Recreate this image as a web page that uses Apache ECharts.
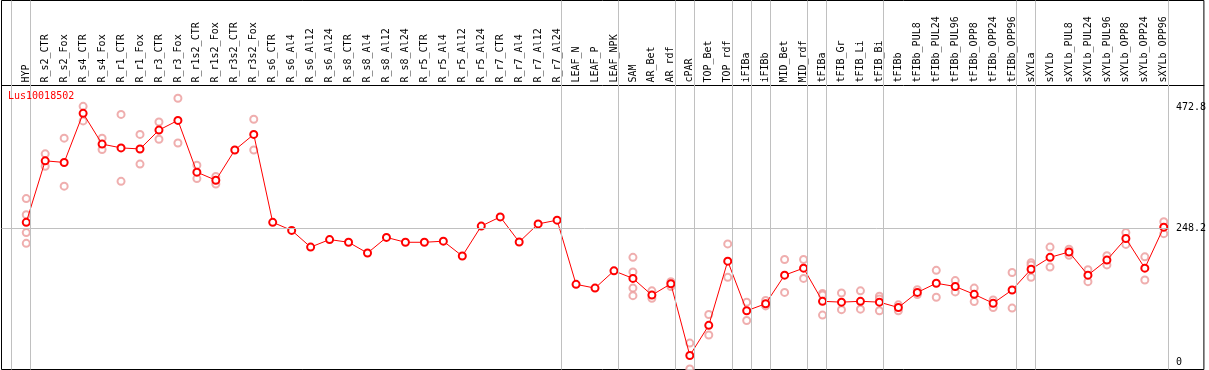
<!DOCTYPE html>
<html>
<head>
<meta charset="utf-8">
<script src="https://cdn.jsdelivr.net/npm/echarts@6/dist/echarts.min.js"></script>
<style>
  html, body { margin: 0; padding: 0; background: #fff; }
  #chart { width: 1209px; height: 370px; }
</style>
</head>
<body>
<div id="chart"></div>
<script>
// sample names (top labels)
const categories = [
  "HYP", "R_s2_CTR", "R_s2_Fox", "R_s4_CTR", "R_s4_Fox", "R_r1_CTR", "R_r1_Fox",
  "R_r3_CTR", "R_r3_Fox", "R_r1s2_CTR", "R_r1s2_Fox", "R_r3s2_CTR", "R_r3s2_Fox",
  "R_s6_CTR", "R_s6_Al4", "R_s6_Al12", "R_s6_Al24", "R_s8_CTR", "R_s8_Al4", "R_s8_Al12",
  "R_s8_Al24", "R_r5_CTR", "R_r5_Al4", "R_r5_Al12", "R_r5_Al24", "R_r7_CTR", "R_r7_Al4",
  "R_r7_Al12", "R_r7_Al24", "LEAF_N", "LEAF_P", "LEAF_NPK", "SAM", "AR_Bet", "AR_rdf",
  "cPAR", "TOP_Bet", "TOP_rdf", "iFIBa", "iFIBb", "MID_Bet", "MID_rdf", "tFIBa",
  "tFIB_Gr", "tFIB_Li", "tFIB_Bi", "tFIBb", "tFIBb_PUL8", "tFIBb_PUL24", "tFIBb_PUL96",
  "tFIBb_OPP8", "tFIBb_OPP24", "tFIBb_OPP96", "sXYLa", "sXYLb", "sXYLb_PUL8",
  "sXYLb_PUL24", "sXYLb_PUL96", "sXYLb_OPP8", "sXYLb_OPP24", "sXYLb_OPP96"
];

// mean expression per sample
const means = [
  259, 373, 370, 461, 404, 397, 395, 430, 448, 352, 337, 393, 422,
  259, 244, 213, 227, 222, 202, 231, 222, 222, 224, 196.5, 252, 269, 222.5, 256, 263,
  144, 137, 169, 155, 124, 145, 12, 68, 187, 95, 108, 161, 174,
  112.5, 111, 112.5, 111, 101, 129, 146, 140, 125.5, 109, 133.5,
  172, 194, 204, 161, 189, 229, 174, 250
];

// single replicates per sample (empty = none shown)
const replicates = [
  [303, 273, 240, 220], [386, 363], [415, 326], [474, 447], [415, 394], [459, 335],
  [422, 367], [445, 413], [489, 406], [365, 340], [344, 330], [], [450, 393],
  [], [], [], [], [], [], [], [], [], [], [], [], [], [], [], [],
  [], [], [], [194, 167, 137, 123], [132, 118], [149, 140], [35, -13], [88, 50],
  [219, 157], [111, 77], [114, 104], [190, 129], [190, 155],
  [127, 124, 87], [128, 97], [132, 98], [122, 117, 95], [106, 95], [134, 125],
  [170, 120], [151, 130], [137, 112], [115, 101], [166, 100],
  [184, 180, 157], [213, 176], [209, 198], [171, 149], [197, 180], [240, 218],
  [195, 152], [260, 238]
];

const yTickValues = [0, 248.2, 472.8];
const refValue = 248.2;
const geneName = "Lus10018502";
// separators drawn after these sample indices
const groupEnds = [-1, 0, 28, 31, 34, 35, 37, 38, 39, 41, 42, 45, 52, 53, 60];

// layout: pixel of first sample, spacing, zero line and scale
const GRID_L = 1.5, GRID_R = 1206.5, GRID_T = 0.5, GRID_B = 369.5;
const X0 = 26.3, STEP = 19, SEP_OFF = 4.2 / STEP;
const Y_ZERO = 362, PX_PER_UNIT = 255 / 472.8;

const xMin = (GRID_L - X0) / STEP;
const xMax = (GRID_R - X0) / STEP;
const yMin = -(GRID_B - Y_ZERO) / PX_PER_UNIT;
const yMax = (Y_ZERO - GRID_T) / PX_PER_UNIT;

const font = "DejaVu Sans Mono";

const meanData = means.map((v, i) => [i, v]);
const repData = [];
replicates.forEach((reps, i) => reps.forEach((v) => repData.push([i, v])));

const chart = echarts.init(document.getElementById("chart"), null, { renderer: "canvas" });

chart.setOption({
  animation: false,
  backgroundColor: "#fff",
  title: {
    text: geneName,
    left: 8,
    top: 91,
    padding: 0,
    textStyle: { color: "#ff0000", fontFamily: font, fontSize: 10, fontWeight: "normal" },
  },
  grid: {
    left: GRID_L,
    right: 1209 - GRID_R,
    top: GRID_T,
    bottom: 370 - GRID_B,
    show: true,
    borderColor: "#000",
    borderWidth: 1,
    backgroundColor: "#fff",
  },
  xAxis: {
    type: "value",
    position: "top",
    offset: -85,
    min: xMin,
    max: xMax,
    axisLine: { show: true, onZero: false, lineStyle: { color: "#000", width: 1 } },
    axisTick: { show: false },
    splitLine: { show: false },
    axisLabel: {
      customValues: categories.map((_, i) => i),
      formatter: (v) => categories[Math.round(v)] ?? "",
      rotate: -90,
      margin: 3,
      color: "#000",
      fontFamily: font,
      fontSize: 10,
    },
  },
  yAxis: {
    type: "value",
    position: "right",
    offset: -31,
    min: yMin,
    max: yMax,
    axisLine: { show: false, onZero: false },
    axisTick: { show: false },
    splitLine: { show: false },
    axisLabel: {
      customValues: yTickValues,
      formatter: (v) => String(v),
      margin: 3,
      color: "#000",
      fontFamily: font,
      fontSize: 10,
    },
  },
  series: [
    {
      type: "scatter",
      z: 2,
      data: repData,
      symbol: "emptyCircle",
      symbolSize: 7,
      itemStyle: { color: "#eb9a9a", borderWidth: 1 },
      markLine: {
        silent: true,
        symbol: ["none", "none"],
        label: { show: false },
        lineStyle: { color: "#c0c0c0", type: "solid", width: 1 },
        data: [
          ...groupEnds.map((g) => ({ xAxis: g + SEP_OFF })),
          [{ coord: [xMin, refValue] }, { coord: [60 + SEP_OFF, refValue] }],
        ],
      },
    },
    {
      type: "line",
      z: 3,
      data: meanData,
      symbol: "emptyCircle",
      symbolSize: 7,
      itemStyle: { color: "#ff0000", borderWidth: 1.5 },
      lineStyle: { color: "#ff0000", width: 1 },
    },
  ],
});
</script>
</body>
</html>
